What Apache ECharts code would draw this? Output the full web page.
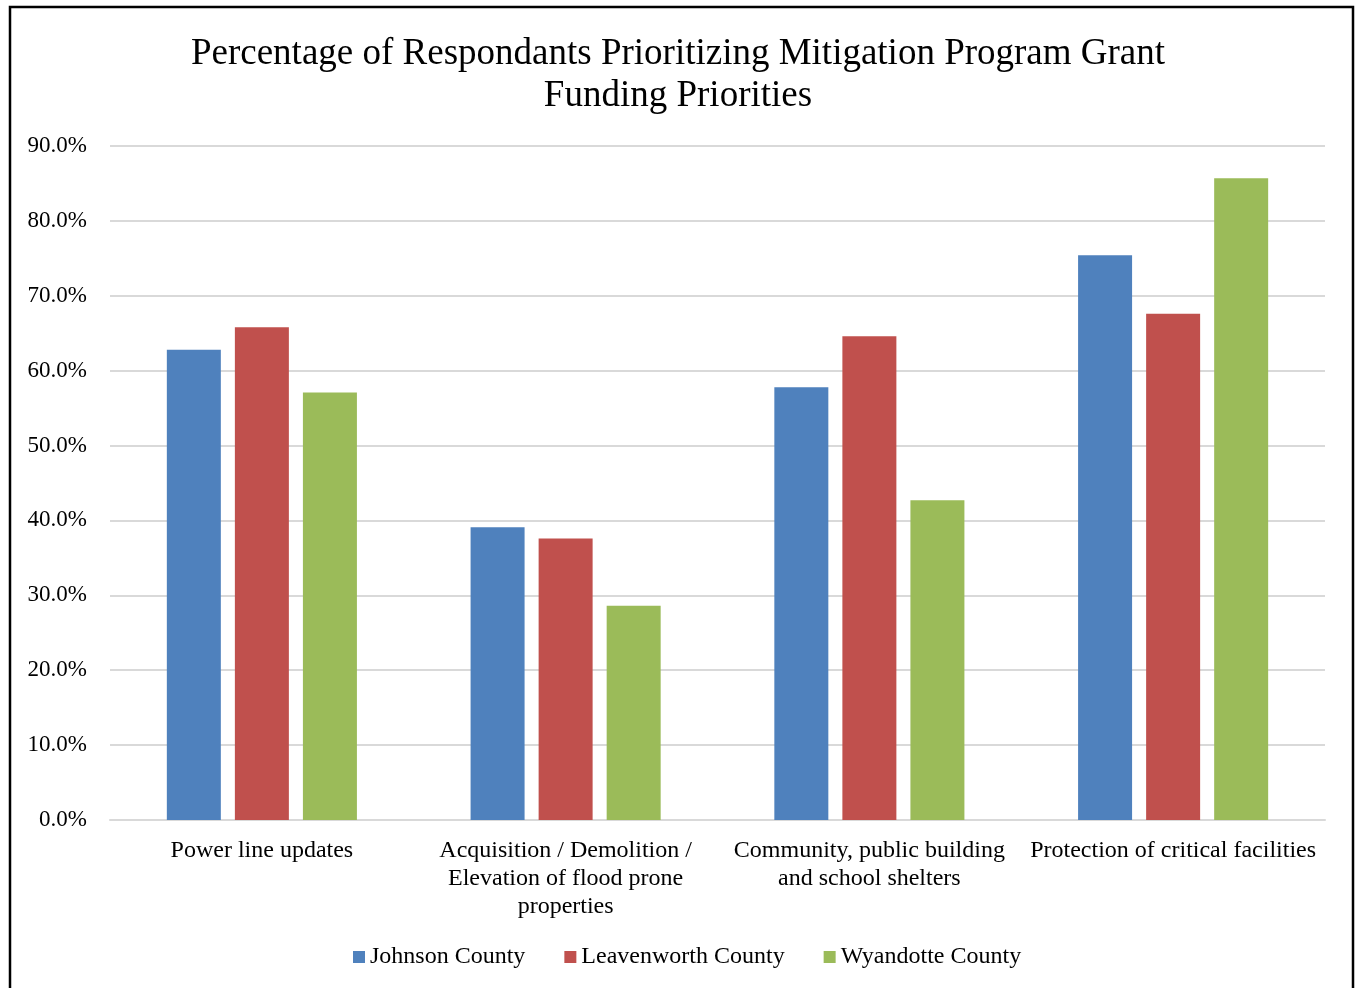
<!DOCTYPE html>
<html>
<head>
<meta charset="utf-8">
<script src="https://cdn.jsdelivr.net/npm/echarts@6/dist/echarts.min.js"></script>
<style>
html,body{margin:0;padding:0;background:#fff;}
#chart{width:1356px;height:988px;}
</style>
</head>
<body>
<div id="chart"></div>
<script>
const titleText = "Percentage of Respondants Prioritizing Mitigation Program Grant\nFunding Priorities";
const categories = [
  "Power line updates",
  "Acquisition / Demolition /\nElevation of flood prone\nproperties",
  "Community, public building\nand school shelters",
  "Protection of critical facilities"
];
const seriesNames = ["Johnson County", "Leavenworth County", "Wyandotte County"];
const johnson = [62.8, 39.1, 57.8, 75.4];
const leavenworth = [65.8, 37.6, 64.6, 67.6];
const wyandotte = [57.1, 28.6, 42.7, 85.7];
const colors = ["#4F81BD", "#C0504D", "#9BBB59"];

const font = "'Liberation Serif', 'Times New Roman', serif";
const chart = echarts.init(document.getElementById('chart'));
const data = [johnson, leavenworth, wyandotte];
chart.setOption({
  animation: false,
  textStyle: {fontFamily: font},
  graphic: [{
    type: 'rect',
    shape: {x: 10, y: 7, width: 1343, height: 1000},
    style: {fill: 'none', stroke: '#000', lineWidth: 2.5},
    silent: true
  }],
  title: {
    text: titleText,
    left: 'center',
    top: 28,
    textStyle: {fontFamily: font, fontSize: 37, fontWeight: 'normal', color: '#000', lineHeight: 42}
  },
  legend: {
    bottom: 14,
    left: 348,
    itemWidth: 12,
    itemHeight: 12,
    itemGap: 39,
    icon: 'rect',
    textStyle: {fontFamily: font, fontSize: 24, color: '#000'},
    data: seriesNames
  },
  grid: {left: 110, right: 31, top: 146, bottom: 168},
  xAxis: {
    type: 'category',
    data: categories,
    axisTick: {show: false},
    axisLine: {lineStyle: {color: '#D9D9D9', width: 2}},
    axisLabel: {fontFamily: font, fontSize: 24, color: '#000', margin: 17, lineHeight: 28, interval: 0}
  },
  yAxis: {
    type: 'value',
    min: 0, max: 90, interval: 10,
    axisLine: {show: false},
    axisTick: {show: false},
    splitLine: {lineStyle: {color: '#D9D9D9', width: 2}},
    axisLabel: {fontFamily: font, fontSize: 23, color: '#000', margin: 23,
      formatter: v => v.toFixed(1) + '%'}
  },
  series: seriesNames.map((n, i) => ({
    name: n,
    type: 'bar',
    data: data[i],
    itemStyle: {color: colors[i]},
    barWidth: 54,
    barGap: '26%'
  }))
});
</script>
</body>
</html>
